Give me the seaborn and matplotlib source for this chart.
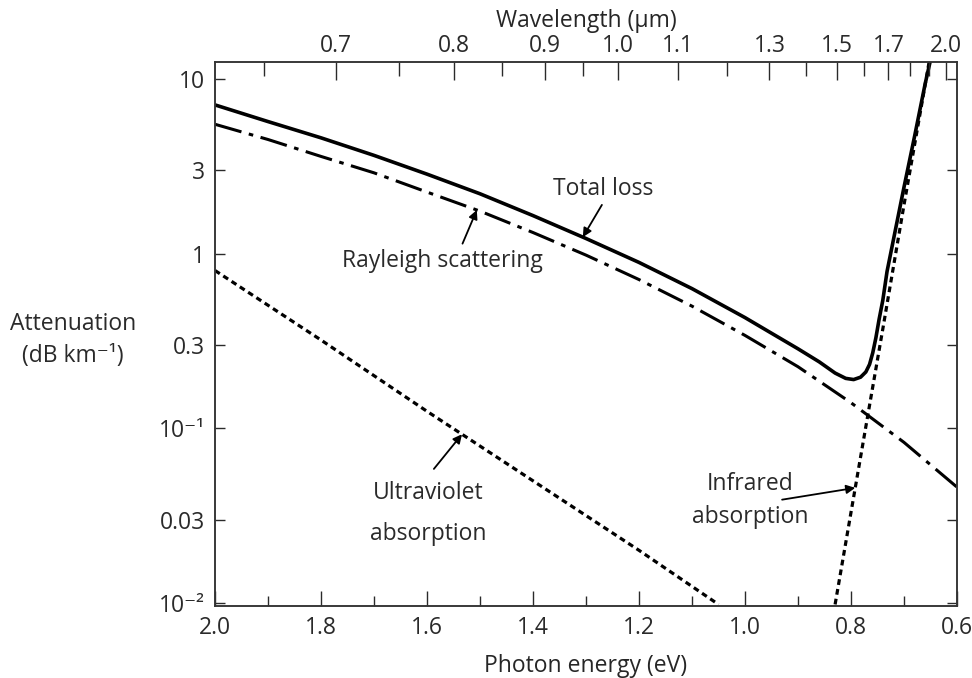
import numpy as np
import matplotlib
matplotlib.use("Agg")
import matplotlib.pyplot as plt
from matplotlib.ticker import FixedLocator, NullLocator
import seaborn as sns

# ─────────────────────────────────────────────
# Data (photon energy in eV, attenuation in dB/km)
# ─────────────────────────────────────────────
total_e = [2.0, 1.9, 1.8, 1.7, 1.6, 1.5, 1.4, 1.3, 1.2, 1.1, 1.0, 0.95, 0.9,
           0.86, 0.83, 0.81, 0.795, 0.782, 0.772, 0.765, 0.759, 0.753, 0.747,
           0.74, 0.732, 0.70, 0.68, 0.66, 0.645]
total_db = [7.1, 5.7, 4.6, 3.65, 2.85, 2.2, 1.65, 1.22, 0.89, 0.63, 0.43, 0.35, 0.285,
            0.24, 0.207, 0.193, 0.19, 0.196, 0.21, 0.232, 0.27, 0.33, 0.42,
            0.54, 0.79, 2.4, 4.7, 9.4, 15.0]

rayleigh_e = [2.0, 1.9, 1.8, 1.7, 1.6, 1.5, 1.4, 1.3, 1.2, 1.1, 1.0, 0.9, 0.8, 0.7, 0.6]
rayleigh_db = [5.5, 4.5, 3.6, 2.9, 2.25, 1.75, 1.32, 0.98, 0.71, 0.50, 0.34, 0.225,
               0.14, 0.083, 0.046]

uv_e = [2.0, 1.8, 1.6, 1.4, 1.2, 1.05]
uv_db = [0.8, 0.32, 0.125, 0.05, 0.02, 0.0098]

ir_e = [0.83, 0.80, 0.768, 0.74, 0.70, 0.66, 0.645]
ir_db = [0.0098, 0.033, 0.12, 0.37, 1.9, 9.3, 17.0]

energy_major = [2.0, 1.8, 1.6, 1.4, 1.2, 1.0, 0.8, 0.6]
energy_minor = [1.9, 1.7, 1.5, 1.3, 1.1, 0.9, 0.7]
wl_major = [0.7, 0.8, 0.9, 1.0, 1.1, 1.3, 1.5, 1.7, 2.0]
wl_minor = [0.65, 0.75, 0.85, 0.95, 1.2, 1.4, 1.6, 1.8, 1.9]
atten_ticks = [0.01, 0.03, 0.1, 0.3, 1, 3, 10]
atten_labels = ["10⁻²", "0.03", "10⁻¹", "0.3", "1", "3", "10"]

HC = 1.24  # eV·µm
FS = 16.5

sns.set_style("ticks")
plt.rcParams["font.family"] = ["Open Sans", "DejaVu Sans"]
plt.rcParams["text.color"] = "#2a2a2a"
plt.rcParams["xtick.color"] = "#2a2a2a"
plt.rcParams["ytick.color"] = "#2a2a2a"

fig = plt.figure(figsize=(9.72, 6.78), dpi=100)
ax = fig.add_axes([215 / 972, 1 - 606 / 678, 742 / 972, 544 / 678])

sns.lineplot(x=total_e, y=total_db, ax=ax, color="black", lw=2.6, sort=False)
sns.lineplot(x=rayleigh_e, y=rayleigh_db, ax=ax, color="black", lw=2.2, sort=False,
             linestyle=(0, (9, 2.5, 1.5, 2.5)))
sns.lineplot(x=uv_e, y=uv_db, ax=ax, color="black", lw=2.3, sort=False,
             linestyle=(0, (1.8, 1.3)))
sns.lineplot(x=ir_e, y=ir_db, ax=ax, color="black", lw=2.3, sort=False,
             linestyle=(0, (1.8, 1.3)))

ax.set_yscale("log")
ax.set_xlim(2.0, 0.6)
ax.set_ylim(0.0096, 12.5)

# bottom axis: photon energy
ax.xaxis.set_major_locator(FixedLocator(energy_major))
ax.xaxis.set_minor_locator(FixedLocator(energy_minor))
ax.set_xticklabels([f"{v:.1f}" for v in energy_major])
ax.tick_params(axis="x", which="major", direction="in", length=11, width=1, labelsize=FS, pad=7)
ax.tick_params(axis="x", which="minor", direction="in", length=7, width=1)
ax.set_xlabel("Photon energy (eV)", fontsize=FS, labelpad=10)

# left/right axis: attenuation
ax.yaxis.set_major_locator(FixedLocator(atten_ticks))
ax.yaxis.set_minor_locator(NullLocator())
ax.set_yticklabels(atten_labels)
ax.tick_params(axis="y", which="major", direction="in", length=7, width=1,
               labelsize=FS, pad=7, right=True)
fig.text(73 / 972, 1 - 340 / 678, "Attenuation\n(dB km⁻¹)", ha="center", va="center",
         fontsize=FS, linespacing=1.45)

# top axis: wavelength
ax2 = ax.twiny()
ax2.set_xlim(ax.get_xlim())
ax2.xaxis.set_major_locator(FixedLocator([HC / w for w in wl_major]))
ax2.xaxis.set_minor_locator(FixedLocator([HC / w for w in wl_minor]))
ax2.set_xticklabels([f"{w:.1f}" for w in wl_major])
ax2.tick_params(axis="x", which="major", direction="in", length=13, width=1, labelsize=FS, pad=3)
ax2.tick_params(axis="x", which="minor", direction="in", length=10, width=1)
ax2.set_xlabel("Wavelength (µm)", fontsize=FS, labelpad=5)

for a in (ax, ax2):
    for s in a.spines.values():
        s.set_color("#333333")
        s.set_linewidth(1.1)


def on_curve(e, xs, ys):
    """Attenuation on a curve at energy e (log interpolation)."""
    xs = np.asarray(xs)[::-1]
    ys = np.log10(np.asarray(ys))[::-1]
    return 10 ** np.interp(e, xs, ys)


arrow = dict(arrowstyle="-|>", color="black", lw=1.3, mutation_scale=13,
             shrinkA=0, shrinkB=0)

ax.text(1.268, 2.34, "Total loss", ha="center", va="center", fontsize=FS)
ax.annotate("", xy=(1.306, on_curve(1.306, total_e, total_db)), xytext=(1.27, 1.9),
            arrowprops=arrow)

ax.text(1.57, 0.91, "Rayleigh scattering", ha="center", va="center", fontsize=FS)
ax.annotate("", xy=(1.506, on_curve(1.506, rayleigh_e, rayleigh_db)), xytext=(1.533, 1.14),
            arrowprops=arrow)

ax.text(1.598, 0.0325, "Ultraviolet\nabsorption", ha="center", va="center",
        fontsize=FS, linespacing=1.95)
ax.annotate("", xy=(1.534, on_curve(1.534, uv_e, uv_db)), xytext=(1.587, 0.0585),
            arrowprops=arrow)

ax.text(0.991, 0.0385, "Infrared\nabsorption", ha="center", va="center",
        fontsize=FS, linespacing=1.5)
ax.annotate("", xy=(0.792, on_curve(0.792, ir_e, ir_db)), xytext=(0.93, 0.039),
            arrowprops=arrow)

fig.savefig("out.png", dpi=100)
